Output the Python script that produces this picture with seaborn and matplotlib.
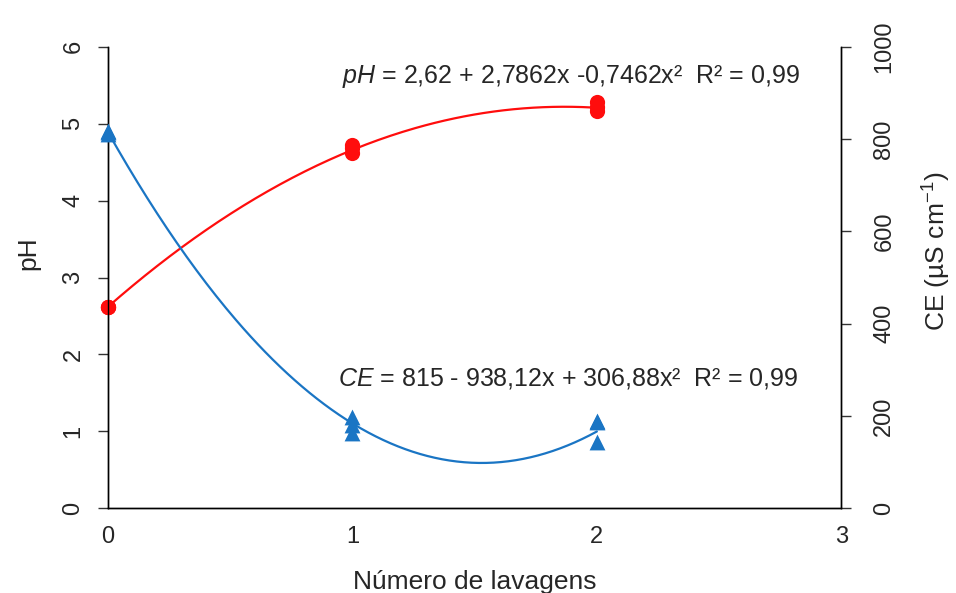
import numpy as np
import pandas as pd
import matplotlib
matplotlib.use("Agg")
import matplotlib.pyplot as plt
import seaborn as sns

# Observed values per number of washes
lavagens = [0, 0, 0, 1, 1, 1, 2, 2, 2]
ph_obs = [2.62, 2.62, 2.62, 4.62, 4.68, 4.73, 5.16, 5.22, 5.28]
ce_obs = [812, 815, 818, 198, 180, 164, 188, 186, 143]

# Quadratic regression coefficients (a + b x + c x^2)
ph_coef = [2.62, 2.7862, -0.7462]
ce_coef = [815, -938.12, 306.88]

xticks = [0, 1, 2, 3]
ph_ticks = [0, 1, 2, 3, 4, 5, 6]
ce_ticks = [0, 200, 400, 600, 800, 1000]

RED = "#ff0d0d"
BLUE = "#1a75c4"

sns.set_theme(style="white")
plt.rcParams["font.family"] = ["Liberation Sans", "DejaVu Sans"]
plt.rcParams["mathtext.fontset"] = "custom"
plt.rcParams["mathtext.it"] = "Liberation Sans:italic"
plt.rcParams["mathtext.rm"] = "Liberation Sans"

fig = plt.figure(figsize=(9.56, 5.93), dpi=100)
ax = fig.add_axes([0.113, 0.143, 0.767, 0.778])
ax2 = ax.twinx()

xs = np.linspace(0, 2, 200)
ph_fit = ph_coef[0] + ph_coef[1] * xs + ph_coef[2] * xs ** 2
ce_fit = ce_coef[0] + ce_coef[1] * xs + ce_coef[2] * xs ** 2

df = pd.DataFrame({"x": lavagens, "ph": ph_obs, "ce": ce_obs})
fit = pd.DataFrame({"x": xs, "ph": ph_fit, "ce": ce_fit})

sns.lineplot(data=fit, x="x", y="ph", ax=ax, color=RED, lw=1.6, zorder=3)
sns.scatterplot(data=df, x="x", y="ph", ax=ax, color=RED, s=120, marker="o",
                edgecolor=RED, linewidth=0, zorder=4, clip_on=False)

sns.lineplot(data=fit, x="x", y="ce", ax=ax2, color=BLUE, lw=1.6, zorder=3)
sns.scatterplot(data=df, x="x", y="ce", ax=ax2, color=BLUE, s=130, marker="^",
                edgecolor=BLUE, linewidth=0, zorder=4, clip_on=False)

ax.set_xlim(0, 3)
ax.set_ylim(0, 6)
ax2.set_ylim(0, 1000)
ax.set_xticks(xticks)
ax.set_yticks(ph_ticks)
ax2.set_yticks(ce_ticks)

for a in (ax, ax2):
    a.spines["top"].set_visible(False)
    for s in ("left", "right", "bottom"):
        a.spines[s].set_color("black")
        a.spines[s].set_linewidth(1.0)
    a.grid(False)

ax.tick_params(axis="x", direction="inout", length=10, width=1, color="#333333",
               labelsize=17, pad=8)
ax.tick_params(axis="y", direction="out", length=7, width=1, color="#333333",
               labelsize=17, pad=10, left=True)
ax2.tick_params(axis="y", direction="out", length=7, width=1, color="#333333",
                labelsize=17, pad=24, right=True)
for lab in ax.get_yticklabels():
    lab.set_rotation(90)
    lab.set_va("center")
for lab in ax2.get_yticklabels():
    lab.set_rotation(90)
    lab.set_va("center")
    lab.set_ha("center")

ax.set_xlabel("Número de lavagens", fontsize=19, labelpad=16)
ax.set_ylabel("pH", fontsize=19)
ax.yaxis.set_label_coords(-0.093, 0.553)
ax2.set_ylabel("CE (µS cm$^{-1}$)", fontsize=19, rotation=90)
ax2.yaxis.set_label_coords(1.109, 0.557)

ax.text(0.958, 5.62, r"$\mathit{pH}$ = 2,62 + 2,7862x -0,7462x²  R² = 0,99",
        fontsize=18, ha="left", va="center")
ax.text(0.94, 1.69, r"$\mathit{CE}$ = 815 - 938,12x + 306,88x²  R² = 0,99",
        fontsize=18, ha="left", va="center")

fig.savefig("out.png", dpi=100, facecolor="white")
